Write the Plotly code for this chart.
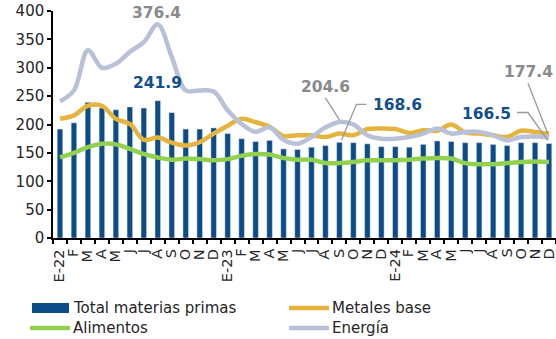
import plotly.graph_objects as go

months = ["E-22", "F", "M", "A", "M", "J", "J", "A", "S", "O", "N", "D",
          "E-23", "F", "M", "A", "M", "J", "J", "A", "S", "O", "N", "D",
          "E-24", "F", "M", "A", "M", "J", "J", "A", "S", "O", "N", "D"]

total = [192, 203, 239, 229, 226, 231, 229, 241.9, 221, 192, 192, 194,
         184, 175, 170, 172, 157, 156, 160, 163, 168.6, 168, 166, 161,
         161, 160, 165, 171, 170, 168, 168, 165, 163, 168, 168, 166.5]

metales = [210, 216, 233, 233, 210, 201, 173, 177, 168, 163, 169, 184,
           198, 210, 204, 196, 180, 181, 181, 178, 184, 181, 192, 193,
           192, 185, 190, 189, 200, 186, 184, 181, 178, 189, 187, 184]

alimentos = [142, 150, 160, 166, 165, 157, 148, 142, 138, 140, 139, 137,
             139, 145, 148, 147, 141, 138, 138, 132, 132, 134, 137, 137,
             137, 138, 140, 141, 140, 132, 130, 130, 132, 134, 135, 134]

energia = [241, 260, 331, 300, 307, 328, 345, 376.4, 319, 260, 260, 258,
           225, 201, 187, 195, 173, 166, 178, 195, 204.6, 200, 181, 175,
           175, 178, 184, 193, 184, 187, 187, 181, 172, 178, 179, 177.4]

x = list(range(len(months)))

C_TOTAL = "#0B4C89"
C_MET = "#E4B43F"
C_ALI = "#92D050"
C_ENE = "#B8C1D7"
C_LBL_BLUE = "#12508C"
C_LBL_GRAY = "#8A8A8A"
C_TXT = "#262626"
FONT = "DejaVu Sans"

fig = go.Figure()
fig.add_trace(go.Bar(x=x, y=total, marker_color=C_TOTAL, width=0.4,
                     name="Total materias primas", showlegend=False))
fig.add_trace(go.Scatter(x=x, y=metales, mode="lines", name="Metales base",
                         line=dict(color=C_MET, width=4.5, shape="spline", smoothing=1),
                         showlegend=False))
fig.add_trace(go.Scatter(x=x, y=alimentos, mode="lines", name="Alimentos",
                         line=dict(color=C_ALI, width=4.5, shape="spline", smoothing=1),
                         showlegend=False))
fig.add_trace(go.Scatter(x=x, y=energia, mode="lines", name="Energía",
                         line=dict(color=C_ENE, width=4.5, shape="spline", smoothing=1),
                         showlegend=False))

# Month tick labels (rotated), one per category
for xi, m in zip(x, months):
    fig.add_annotation(x=xi, y=0, xref="x", yref="y", text=m, showarrow=False,
                       textangle=-90, xanchor="center", yanchor="top",
                       xshift=-1, yshift=-9,
                       font=dict(family=FONT, size=14.5, color=C_TXT))

# Value labels
labels = [
    (7, energia[7], "376.4", C_LBL_GRAY, -1, 11),
    (7, total[7], "241.9", C_LBL_BLUE, 0, 18),
    (20, energia[20], "204.6", C_LBL_GRAY, -14, 35),
    (20, total[20], "168.6", C_LBL_BLUE, 58, 37),
    (35, total[35], "166.5", C_LBL_BLUE, -63, 30),
    (35, energia[35], "177.4", C_LBL_GRAY, -21, 65),
]
for xi, yv, txt, col, xs, ys in labels:
    fig.add_annotation(x=xi, y=yv, text="<b>%s</b>" % txt, showarrow=False,
                       xshift=xs, yshift=ys, font=dict(family=FONT, size=15.5, color=col))

# Leader lines (pixel offsets from the data point, y up)
leaders = [
    (20, energia[20], "M 0 2 L -14 24"),
    (20, total[20], "M 2 2 L 17 38 L 27 38"),
    (35, total[35], "M -1 3 L -21 31 L -32 31"),
    (35, energia[35], "M -1 3 L -21 54"),
]
for xi, yv, path in leaders:
    fig.add_shape(type="path", xref="x", yref="y", xsizemode="pixel", ysizemode="pixel",
                  xanchor=xi, yanchor=yv, path=path,
                  line=dict(color="#999999", width=1.3))

# Manual legend
L, PW = 53, 503
T, PH = 11, 227
def px(v):
    return (v - L) / PW
def py(v):
    return (T + PH - v) / PH

legend_items = [
    ("Total materias primas", C_TOTAL, "rect", 32, 308),
    ("Metales base", C_MET, "line", 289, 308),
    ("Alimentos", C_ALI, "line", 30, 328),
    ("Energía", C_ENE, "line", 289, 328),
]
for name, col, kind, x0, yc in legend_items:
    if kind == "rect":
        fig.add_shape(type="rect", xref="paper", yref="paper",
                      x0=px(x0), x1=px(x0 + 37), y0=py(yc - 5), y1=py(yc + 5),
                      fillcolor=col, line=dict(width=0))
        tx = x0 + 39
    else:
        fig.add_shape(type="line", xref="paper", yref="paper",
                      x0=px(x0), x1=px(x0 + 40), y0=py(yc), y1=py(yc),
                      line=dict(color=col, width=4.5))
        tx = x0 + 41
    fig.add_annotation(xref="paper", yref="paper", x=px(tx), y=py(yc),
                       text=name, showarrow=False, xanchor="left", yanchor="middle",
                       font=dict(family=FONT, size=15, color=C_TXT))

fig.update_layout(
    width=556, height=339,
    margin=dict(l=53, r=0, t=11, b=101),
    plot_bgcolor="white", paper_bgcolor="white",
    font=dict(family=FONT, size=15, color=C_TXT),
    showlegend=False,
    bargap=0.6,
)
fig.update_xaxes(
    range=[-0.5, 35.5], tickmode="array", tickvals=x, showticklabels=False,
    ticks="", showgrid=False, zeroline=False,
    showline=True, linecolor="#000000", linewidth=1.5,
    minor=dict(tickmode="linear", tick0=-0.5, dtick=1, ticks="outside",
               ticklen=4, tickcolor="#000000", tickwidth=1.5, showgrid=False),
)
fig.update_yaxes(
    range=[0, 400], tickmode="linear", tick0=0, dtick=50,
    ticks="outside", ticklen=4, tickcolor="#000000", tickwidth=1.5,
    showgrid=False, zeroline=False,
    showline=True, linecolor="#000000", linewidth=1.5,
    tickfont=dict(family=FONT, size=15, color=C_TXT),
)

fig.write_html("out.html", config={"displayModeBar": False},
               post_script="document.body.style.margin='0';document.body.style.overflow='hidden';")
